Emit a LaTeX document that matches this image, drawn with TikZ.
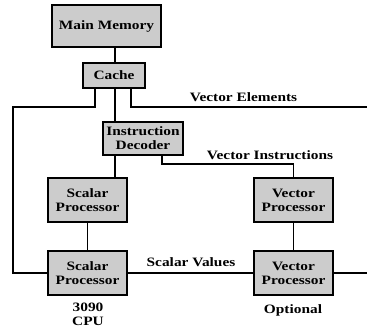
\documentclass[tikz,border=0pt]{standalone}
\usepackage{fontspec}
\newfontfamily\figfont[FakeStretch=1.2]{Liberation Serif}
\begin{document}
\begin{tikzpicture}[
    x=1pt, y=-1pt,
    every node/.style={font=\figfont\fontsize{12.8}{14}\selectfont\bfseries},
    unit/.style={
        draw,
        line width=1.6pt,
        fill=gray!40,
        align=center,
        inner sep=0pt
    },
    wire/.style={line width=1.3pt},
    label/.style={align=center, inner sep=0pt}
]
    \useasboundingbox (0,0) rectangle (367,335);

    % memory and cache
    \node[unit, minimum width=109pt, minimum height=42pt] (mem) at (106.5,26) {Main Memory};
    \node[unit, minimum width=62pt, minimum height=25pt] (cache) at (114,75.5) {Cache};

    % decoder
    \node[unit, minimum width=80pt, minimum height=33pt] (dec) at (143,138.5)
        {Instruction\\ Decoder};

    % processors
    \node[unit, minimum width=79pt, minimum height=44pt] (sp1) at (87.5,200) {Scalar\\ Processor};
    \node[unit, minimum width=79pt, minimum height=44pt] (vp1) at (293.5,200) {Vector\\ Processor};
    \node[unit, minimum width=79pt, minimum height=44pt] (sp2) at (87.5,273) {Scalar\\ Processor};
    \node[unit, minimum width=79pt, minimum height=44pt] (vp2) at (293.5,273) {Vector\\ Processor};

    % free ends at the right edge
    \coordinate (elemend) at (367,107);
    \coordinate (valend) at (367,273);

    % connections
    \draw[wire] ([xshift=1pt]cache.north) -- ([xshift=1pt]cache.north |- mem.south);
    \draw[wire] ([xshift=1pt]cache.south) -- ([xshift=1pt]cache.south |- dec.north);
    \draw[wire] ([xshift=-19pt]cache.south) |- (13,107) |- (sp2.west);
    \draw[wire] ([xshift=17pt]cache.south) |- (elemend);
    \draw[wire] ([xshift=-28pt]dec.south) -- ([xshift=-28pt]dec.south |- sp1.north);
    \draw[wire] ([xshift=19pt]dec.south) |- (vp1.north |- 0,164) -- (vp1.north);
    \draw[wire] (sp1) -- (sp2);
    \draw[wire] (vp1) -- (vp2);
    \draw[wire] (sp2) -- (vp2);
    \draw[wire] (vp2.east) -- (valend);

    % labels
    \node[label] (elemlbl) at (243.5,97) {Vector Elements};
    \node[label] (instrlbl) at (270,155.5) {Vector Instructions};
    \node[label] (vallbl) at (191,262) {Scalar Values};
    \node[label] (cpulbl) at (88,314) {3090\\ CPU};
    \node[label] (optlbl) at (293,310) {Optional};

\end{tikzpicture}
\end{document}
